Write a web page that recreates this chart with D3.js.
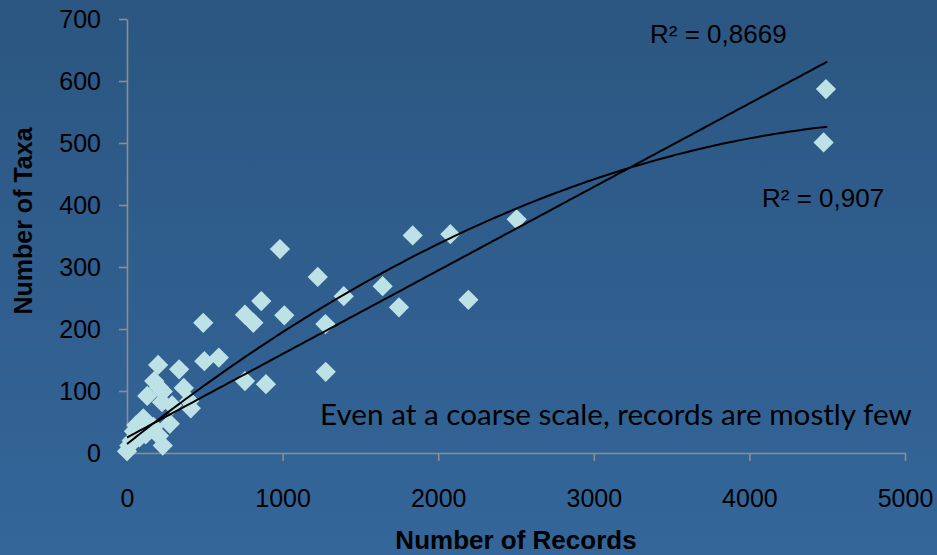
<!DOCTYPE html>
<html><head><meta charset="utf-8">
<script src="https://cdn.jsdelivr.net/npm/d3@7"></script>
<style>html,body{margin:0;padding:0;overflow:hidden;background:#2f5e8e}</style>
</head><body>
<svg id="c" width="937" height="555"></svg>
<script>
// ---- data ----
const records = [0, 15, 30, 45, 60, 80, 105, 120, 140, 170, 130, 175, 200, 205, 205, 225, 230, 230, 275, 290, 335, 365, 400, 410,
  490, 497, 590, 758, 812, 758, 863, 893, 983, 1011, 1226, 1275, 1277, 1393, 1643, 1748, 1836, 2078, 2194, 2504, 4477, 4492];
const taxa = [3, 12, 20, 35, 45, 25, 56, 30, 40, 42, 92, 116, 142, 106, 28, 82, 12, 99, 47, 77, 135, 105, 84, 72,
  210, 148, 154, 223, 210, 116, 245, 111, 329, 222, 284, 208, 131, 253, 269, 235, 351, 353, 247, 377, 501, 587];
const linearFit = [25, 0.1347];            // intercept, slope
const polyFit = [14.5, 0.1994, -1.904e-5];  // c, b, a
const fitRange = [0, 4500];
const xTicks = [0, 1000, 2000, 3000, 4000, 5000];
const yTicks = [0, 100, 200, 300, 400, 500, 600, 700];
const r2Labels = ["R² = 0,8669", "R² = 0,907"];
const note = "Even at a coarse scale, records are mostly few";

const svg = d3.select("#c");
const defs = svg.append("defs");
const g = defs.append("linearGradient").attr("id","bg").attr("x1",0).attr("y1",0).attr("x2",0).attr("y2",1);
g.append("stop").attr("offset","0%").attr("stop-color","#2b5681");
g.append("stop").attr("offset","100%").attr("stop-color","#34669a");
svg.append("rect").attr("width",937).attr("height",555).attr("fill","url(#bg)");

const x = d3.scaleLinear().domain([0,5000]).range([127,905]);
const y = d3.scaleLinear().domain([0,700]).range([453,19]);

const axisColor = "#8e8e8e";
const font = "'Liberation Sans', Arial, sans-serif";

// axes
const xa = svg.append("g").attr("transform","translate(0,453)")
  .call(d3.axisBottom(x).tickValues(xTicks).tickFormat(d3.format("d")).tickSize(8).tickSizeOuter(0).tickPadding(28));
const ya = svg.append("g").attr("transform","translate(127,0)")
  .call(d3.axisLeft(y).tickValues(yTicks).tickFormat(d3.format("d")).tickSize(8).tickSizeOuter(0).tickPadding(18));
[xa, ya].forEach(a => {
  a.select(".domain").attr("stroke",axisColor).attr("stroke-width",1.6);
  a.selectAll(".tick line").attr("stroke",axisColor).attr("stroke-width",1.6);
  a.selectAll(".tick text").attr("fill","#000").style("font-family",font).style("font-size","25px");
});

// points
const diamond = d3.symbol().type(d3.symbolSquare).size(205);
svg.append("g").selectAll("path").data(records.map((r,i)=>[r,taxa[i]])).join("path")
  .attr("d", diamond)
  .attr("transform", d => `translate(${x(d[0])},${y(d[1])}) rotate(45)`)
  .attr("fill","#bde2e6");

// trend lines
const samples = d3.range(fitRange[0], fitRange[1] + 1, 25);
const line = d3.line().x(d=>x(d[0])).y(d=>y(d[1]));
svg.append("path").attr("d", line(samples.map(v=>[v, linearFit[0]+linearFit[1]*v])))
  .attr("fill","none").attr("stroke","#000").attr("stroke-width",2);
svg.append("path").attr("d", line(samples.map(v=>[v, polyFit[0]+polyFit[1]*v+polyFit[2]*v*v])))
  .attr("fill","none").attr("stroke","#000").attr("stroke-width",2);

// R² labels
svg.append("text").attr("x",650).attr("y",43).text(r2Labels[0])
  .style("font-family",font).style("font-size","26px").attr("fill","#000");
svg.append("text").attr("x",762).attr("y",207).text(r2Labels[1])
  .style("font-family",font).style("font-size","26px").attr("fill","#000");

// annotation
const nt = svg.append("text").attr("x",320).attr("y",425).text(note)
  .style("font-family","Lato, 'Open Sans', sans-serif").style("font-size","25px").attr("fill","#000");
const w = nt.node().getComputedTextLength();
nt.style("font-size", (25*592/w).toFixed(2)+"px");

// axis titles
svg.append("text").attr("x",516).attr("y",549).attr("text-anchor","middle").text("Number of Records")
  .style("font-family",font).style("font-size","26px").style("font-weight","bold").attr("fill","#000");
svg.append("text").attr("transform","translate(32,221) rotate(-90)").attr("text-anchor","middle").text("Number of Taxa")
  .style("font-family",font).style("font-size","25px").style("font-weight","bold").attr("fill","#000");
</script>
</body></html>
